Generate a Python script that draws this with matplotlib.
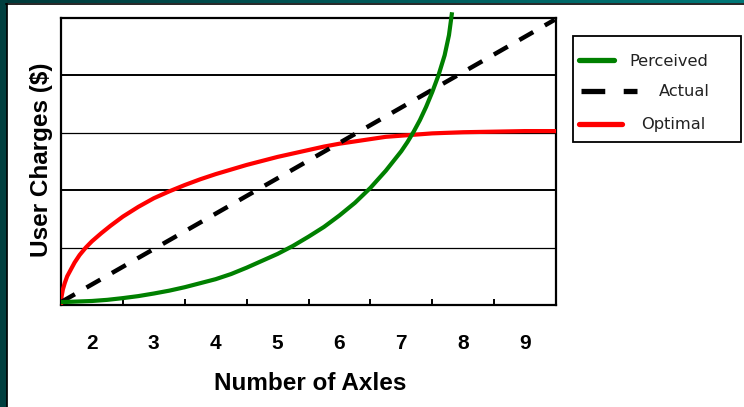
import numpy as np
import matplotlib.pyplot as plt
from matplotlib.lines import Line2D
from matplotlib.patches import Rectangle
from matplotlib.colors import LinearSegmentedColormap

# values
axles = [2, 3, 4, 5, 6, 7, 8, 9]
series_names = ["Perceived", "Actual", "Optimal"]

perceived_x = [1.5, 1.75, 2.0, 2.25, 2.5, 2.75, 3.0, 3.25, 3.5, 3.75, 4.0, 4.25, 4.5,
               4.75, 5.0, 5.25, 5.5, 5.75, 6.0, 6.25, 6.5, 6.75, 7.0, 7.1, 7.2, 7.3,
               7.4, 7.5, 7.6, 7.7, 7.77, 7.82]
perceived_y = [0.05, 0.06, 0.07, 0.09, 0.12, 0.155, 0.2, 0.25, 0.31, 0.38, 0.45, 0.54,
               0.65, 0.77, 0.89, 1.03, 1.19, 1.36, 1.56, 1.78, 2.04, 2.34, 2.68, 2.84,
               3.02, 3.22, 3.45, 3.71, 4.0, 4.35, 4.7, 5.1]

actual_x = [1.5, 9.48]
actual_y = [0.05, 4.97]

optimal_x = [1.5, 1.51, 1.53, 1.56, 1.6, 1.65, 1.72, 1.8, 1.9, 2.0, 2.15, 2.3, 2.5,
             2.75, 3.0, 3.25, 3.5, 3.75, 4.0, 4.25, 4.5, 4.75, 5.0, 5.25, 5.5, 5.75,
             6.0, 6.25, 6.5, 6.75, 7.0, 7.25, 7.5, 7.75, 8.0, 8.5, 9.0, 9.5]
optimal_y = [0.0, 0.15, 0.27, 0.38, 0.5, 0.6, 0.74, 0.87, 1.0, 1.11, 1.25, 1.38, 1.54,
             1.71, 1.86, 1.98, 2.09, 2.19, 2.28, 2.36, 2.44, 2.51, 2.58, 2.64, 2.70,
             2.76, 2.81, 2.85, 2.89, 2.93, 2.95, 2.97, 2.99, 3.0, 3.01, 3.02, 3.03, 3.03]

W, H = 744, 407
fig = plt.figure(figsize=(W / 100, H / 100), dpi=100, facecolor="white")


def fx(px):
    return px / W


def fy(py):
    return 1 - py / H


# slide border: dark teal strip on the left, gradient band on top
fig.patches.append(Rectangle((0, 0), fx(6.5), 1, transform=fig.transFigure,
                             color="#003f3f", zorder=0))
band = fig.add_axes([0, fy(3.5), 1, 3.5 / H])
band.imshow(np.linspace(0, 1, 256)[None, :], aspect="auto",
            cmap=LinearSegmentedColormap.from_list("teal", ["#003a3a", "#007878"]))
band.axis("off")
fig.add_artist(Line2D([fx(7), fx(7)], [0, fy(3.5)], color="black", lw=1.2))
fig.add_artist(Line2D([fx(6.5), 1], [fy(4), fy(4)], color="black", lw=1.2))

ax = fig.add_axes([fx(61), fy(305), fx(556) - fx(61), (305 - 18) / H])
ax.set_xlim(1.5, 9.5)
ax.set_ylim(0, 5)

# horizontal gridlines
for level, lw in zip([1, 2, 3, 4], [0.9, 1.4, 0.9, 1.4]):
    ax.axhline(level, color="black", lw=lw, zorder=1)

ax.plot(optimal_x, optimal_y, color="#ff0000", lw=3, zorder=3, solid_capstyle="butt",
        solid_joinstyle="round")
ax.plot(actual_x, actual_y, color="black", lw=3.2, ls=(0, (3.6, 3.0)), zorder=4)
ax.plot(perceived_x, perceived_y, color="#008000", lw=3, zorder=5, clip_on=False,
        solid_capstyle="butt", solid_joinstyle="round")

for s in ax.spines.values():
    s.set_linewidth(1.6)

ax.set_yticks([])
ax.set_xticks(axles)
ax.set_xticks([a + 0.5 for a in axles[:-1]], minor=True)
ax.tick_params(axis="x", which="major", length=0, pad=21)
ax.tick_params(axis="x", which="minor", direction="in", length=4.5, width=1.4)
for lab in ax.get_xticklabels():
    lab.set_fontfamily("Liberation Sans")
    lab.set_fontweight("bold")
    lab.set_fontsize(15)

fig.text(fx(310), fy(383), "Number of Axles", ha="center", va="center",
         fontsize=17.5, fontweight="bold", family="Liberation Sans")
fig.text(fx(42), fy(160), "User Charges ($)", ha="center", va="center",
         rotation=90, fontsize=17.5, fontweight="bold", family="Liberation Sans")

# legend box drawn by hand to follow the original layout
fig.patches.append(Rectangle((fx(573), fy(142)), fx(741) - fx(573), (142 - 36) / H,
                             transform=fig.transFigure, facecolor="white",
                             edgecolor="black", lw=1.3, zorder=5))
legend_rows = [
    # name, color, line px range, dashes, text left px, row y px
    (series_names[0], "#008000", (579, 614), None, 629, 60),
    (series_names[1], "black", (581, 637), (0, (4.5, 3.5, 3, 100)), 659, 91),
    (series_names[2], "#ff0000", (579, 622), None, 641, 124),
]
for name, col, (x0, x1), dash, tx, ry in legend_rows:
    ln = Line2D([fx(x0), fx(x1)], [fy(ry), fy(ry)], color=col, lw=3.8,
                solid_capstyle="round", zorder=6)
    if dash is not None:
        ln.set_linestyle(dash)
        ln.set_dash_capstyle("butt")
    fig.add_artist(ln)
    fig.text(fx(tx), fy(ry + 1), name, ha="left", va="center", fontsize=11.7,
             color="#222222", family="DejaVu Sans", zorder=7)

fig.savefig("out.png", dpi=100, facecolor="white")
